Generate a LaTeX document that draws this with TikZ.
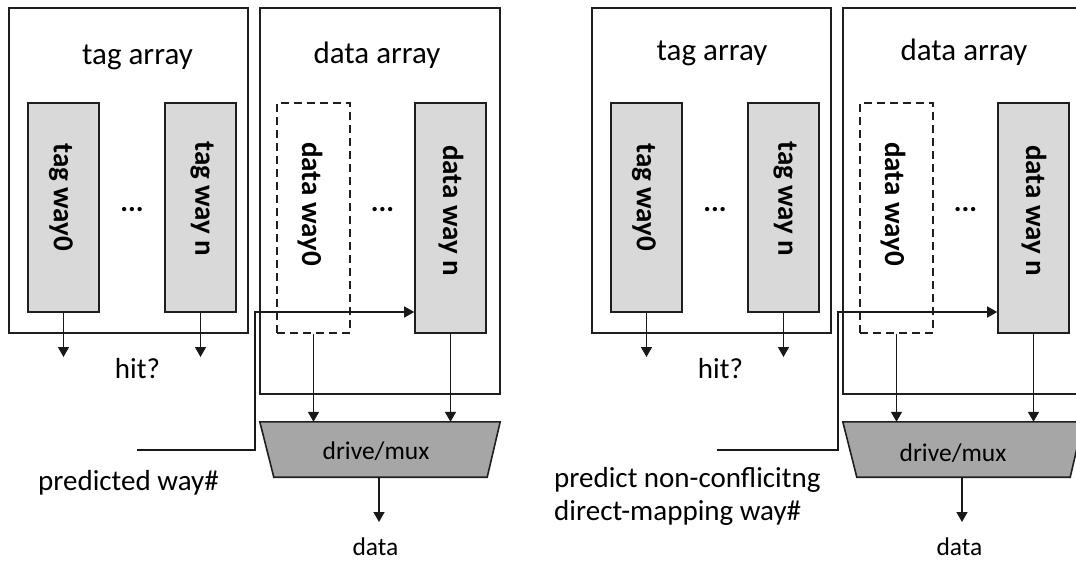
\documentclass[tikz,border=0pt]{standalone}
\usepackage{fontspec}
\setmainfont{Carlito}
\usetikzlibrary{arrows.meta}

\tikzset{
  x=1pt, y=-1pt,
  ink/.style={draw=black!88, line width=1.6pt},
  arraybox/.style={ink, rectangle, inner sep=0pt},
  waybox/.style={ink, fill=black!15, inner sep=0pt, minimum width=71pt},
  predbox/.style={ink, dash pattern=on 8pt off 5pt, fill=white, inner sep=0pt,
    minimum width=73pt, minimum height=230pt},
  waylabel/.style={rotate=-90, anchor=west, inner sep=0pt,
    font=\fontsize{29}{29}\selectfont\bfseries},
  dots/.style={inner sep=0pt, font=\fontsize{29}{29}\selectfont\bfseries},
  title/.style={anchor=base, inner sep=0pt, font=\fontsize{31}{31}\selectfont},
  lbl/.style={inner sep=0pt, font=\fontsize{29}{33}\selectfont},
  smalllbl/.style={anchor=base, inner sep=0pt, font=\fontsize{25.5}{25.5}\selectfont},
  muxfill/.style={ink, fill=black!35},
  sig/.style={draw=black!90, line width=1.5pt, line join=miter,
    -{Triangle[width=11pt,length=10pt]}},
}

% One cache organisation: tag array, data array, output mux and signals
\newcommand{\cacheorg}{%
  \node[arraybox, minimum width=239pt, minimum height=325pt] (tagarr) at (128.5,170.5) {};
  \node[arraybox, minimum width=240pt, minimum height=386pt] (dataarr) at (380,201) {};
  \node[waybox, minimum height=209pt] (tw0) at (63.5,207.5) {};
  \node[waybox, minimum height=209pt] (twn) at (200.5,207.5) {};
  \node[predbox] (dw0) at (313.5,218) {};
  \node[waybox, minimum height=230pt] (dwn) at (450.5,218) {};
  \node[waylabel] (tw0t) at (61,143) {tag way0};
  \node[waylabel] (twnt) at (202,141) {tag way n};
  \node[waylabel] (dw0t) at (310,142) {data way0};
  \node[waylabel] (dwnt) at (451,145) {data way n};
  \node[dots] (tdots) at (132,210) {...};
  \node[dots] (ddots) at (382.5,210) {...};
  % mux outline
  \node[inner sep=0pt, minimum width=240pt, minimum height=55pt] (mux) at (380,449.5) {};
  \draw[muxfill] (mux.north west) -- (mux.north east)
    -- ([xshift=-13pt]mux.south east) -- ([xshift=14pt]mux.south west) -- cycle;
  % signals
  \coordinate (h0) at (63.5,357);
  \coordinate (hn) at (200.5,357);
  \coordinate (dout) at (379,522);
  \coordinate (pk) at (255,312);
  \draw[sig] (tw0.south) -- (h0);
  \draw[sig] (twn.south) -- (hn);
  \draw[sig] (dw0.south) -- (dw0.south |- mux.north);
  \draw[sig] (dwn.south) -- (dwn.south |- mux.north);
  \draw[sig] (mux.south -| dout) -- (dout);
  \draw[sig] (p0) -| (pk) -- (dwn.west |- pk);
  \node[lbl, anchor=base] (hit) at (137.5,378) {hit?};
}

\begin{document}
\begin{tikzpicture}
\useasboundingbox (0,0) rectangle (1076,560);
\clip (0,0) rectangle (1076,560);

% conventional way prediction
\begin{scope}[name prefix=L-]
  \coordinate (p0) at (137,450);
  \cacheorg
  \node[title] (tagt) at (137.5,64) {tag array};
  \node[title] (datat) at (377,63) {data array};
  \node[smalllbl] (muxt) at (376,459) {drive/mux};
  \node[smalllbl] (datao) at (375.5,555) {data};
  \node[lbl, anchor=base west] (pred) at (38,490) {predicted way\#};
\end{scope}

% non-conflicting direct-mapping prediction
\begin{scope}[xshift=583pt, name prefix=R-]
  \coordinate (p0) at (134,450);
  \cacheorg
  \node[title] (tagt) at (129,60) {tag array};
  \node[title] (datat) at (381,60) {data array};
  \node[smalllbl] (muxt) at (370,461) {drive/mux};
  \node[smalllbl] (datao) at (376.5,555) {data};
  \node[lbl, anchor=base west, align=left] (pred) at (-29,520)
    {predict non-conflicitng\\direct-mapping way\#};
\end{scope}
\end{tikzpicture}
\end{document}
